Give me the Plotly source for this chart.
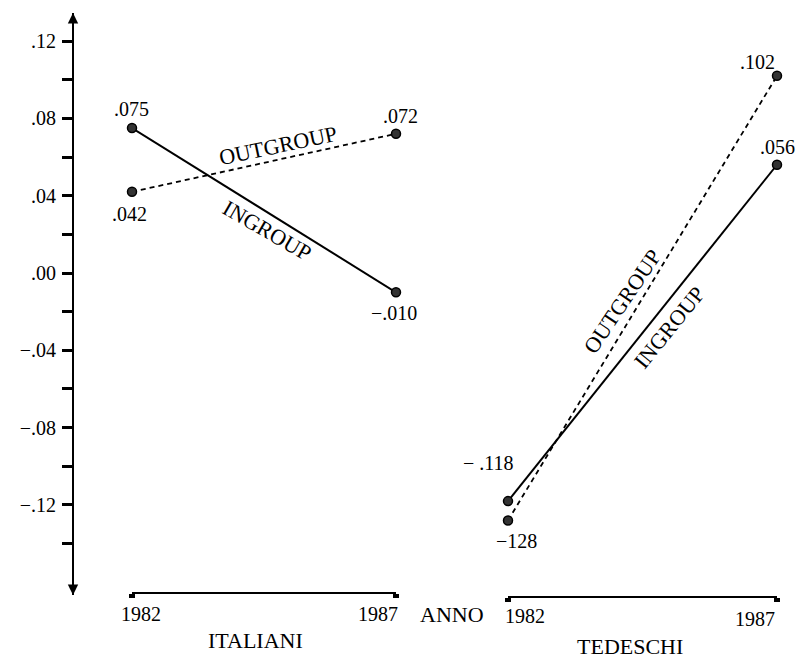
import plotly.graph_objects as go

W, H = 803, 660

# ---------------- data ----------------
years = [1982, 1987]
ital_ingroup = [0.075, -0.010]
ital_outgroup = [0.042, 0.072]
ted_ingroup = [-0.118, 0.056]
ted_outgroup = [-0.128, 0.102]

ital_ingroup_lbl = [".075", "\u2212.010"]
ital_outgroup_lbl = [".042", ".072"]
ted_ingroup_lbl = ["\u2212 .118", ".056"]
ted_outgroup_lbl = ["\u2212128", ".102"]

y_tickvals = [0.12, 0.10, 0.08, 0.06, 0.04, 0.02, 0.00, -0.02, -0.04, -0.06, -0.08, -0.10, -0.12, -0.14]
y_ticktext = [".12", "", ".08", "", ".04", "", ".00", "", "\u2212.04", "", "\u2212.08", "", "\u2212.12", ""]

FONT = "Liberation Serif"
FS = 20


def P(x, y):
    return x / W, 1 - y / H


# y scale: 0 at pixel 273, 1933 px per unit
y_top_px, y_bot_px = 13, 595
zero_px, scale = 273, 1933.0
y_rng = [(zero_px - y_bot_px) / scale, (zero_px - y_top_px) / scale]
y_axis_x = 73

fig = go.Figure()

line_solid = dict(color="black", width=2)
line_dash = dict(color="black", width=1.8, dash="5px,4px")
mk = dict(symbol="circle", size=9, color="#333", line=dict(color="black", width=1.5))

for xa, vals, ln, nm in [("x", ital_outgroup, line_dash, "OUTGROUP"),
                         ("x", ital_ingroup, line_solid, "INGROUP"),
                         ("x2", ted_outgroup, line_dash, "OUTGROUP"),
                         ("x2", ted_ingroup, line_solid, "INGROUP")]:
    fig.add_trace(go.Scatter(x=years, y=vals, mode="lines+markers", line=ln, marker=mk,
                             xaxis=xa, yaxis="y", name=nm, cliponaxis=False))

annotations = []
tf = dict(family=FONT, size=FS, color="black")


def val_label(xref, x, y, text, dx, dy):
    annotations.append(dict(xref=xref, yref="y", x=x, y=y, text=text, showarrow=False,
                            xshift=dx, yshift=dy, font=tf, xanchor="center", yanchor="middle"))


# value labels (offsets in px relative to point)
val_label("x", years[0], ital_ingroup[0], ital_ingroup_lbl[0], -1, 19)
val_label("x", years[1], ital_ingroup[1], ital_ingroup_lbl[1], -2, -21)
val_label("x", years[0], ital_outgroup[0], ital_outgroup_lbl[0], -3, -22)
val_label("x", years[1], ital_outgroup[1], ital_outgroup_lbl[1], 4, 18)
val_label("x2", years[0], ted_ingroup[0], ted_ingroup_lbl[0], -20, 38)
val_label("x2", years[1], ted_ingroup[1], ted_ingroup_lbl[1], 0, 18)
val_label("x2", years[0], ted_outgroup[0], ted_outgroup_lbl[0], 8, -21)
val_label("x2", years[1], ted_outgroup[1], ted_outgroup_lbl[1], -20, 14)


def free_text(px, py, text, angle=0, size=FS):
    x, y = P(px, py)
    annotations.append(dict(xref="paper", yref="paper", x=x, y=y, text=text, showarrow=False,
                            textangle=angle, font=dict(family=FONT, size=size, color="black"),
                            xanchor="center", yanchor="middle"))


# group labels along lines
free_text(278, 145, "OUTGROUP", -12, 22)
free_text(267, 231, "INGROUP", 30, 22)
free_text(622, 301, "OUTGROUP", -56, 22)
free_text(669, 327, "INGROUP", -51, 22)

# axis labels
free_text(141, 614, "1982")
free_text(378, 614, "1987")
free_text(452, 614, "ANNO", size=22)
free_text(525, 616, "1982")
free_text(755, 619, "1987")
free_text(255, 640, "ITALIANI", size=22)
free_text(630, 646, "TEDESCHI", size=22)

# arrow heads on the y axis
ax_x = y_axis_x / W
for yv, ay in [(y_rng[1], 14), (y_rng[0], -14)]:
    annotations.append(dict(xref="paper", yref="y", x=ax_x, y=yv, ax=0, ay=ay, text="",
                            showarrow=True, arrowhead=2, arrowsize=1.3, arrowwidth=1.6,
                            arrowcolor="black", standoff=0))

xaxis_common = dict(range=[1982, 1987], showgrid=False, zeroline=False, showline=True,
                    linecolor="black", linewidth=2, ticks="outside", ticklen=4, tickwidth=6,
                    tickcolor="black", tickvals=years, showticklabels=False, anchor="free",
                    fixedrange=True)

fig.update_layout(
    width=W, height=H, autosize=False,
    margin=dict(l=0, r=0, t=0, b=0),
    paper_bgcolor="white", plot_bgcolor="white",
    showlegend=False,
    xaxis=dict(domain=[132 / W, 396 / W], position=1 - 593 / H, **xaxis_common),
    xaxis2=dict(domain=[508 / W, 777 / W], position=1 - 597 / H, **xaxis_common),
    yaxis=dict(domain=[1 - y_bot_px / H, 1 - y_top_px / H], range=y_rng, anchor="free",
               position=ax_x, showgrid=False, zeroline=False, showline=True, linecolor="black",
               linewidth=2, ticks="outside", ticklen=10, tickwidth=2.5, tickcolor="black",
               tickvals=y_tickvals, ticktext=y_ticktext, ticklabelstandoff=2,
               tickfont=dict(family=FONT, size=FS, color="black"), fixedrange=True),
    annotations=annotations,
)

fig.write_html("out.html", config={"displayModeBar": False},
               post_script="document.body.style.margin='0';document.body.style.overflow='hidden';")
